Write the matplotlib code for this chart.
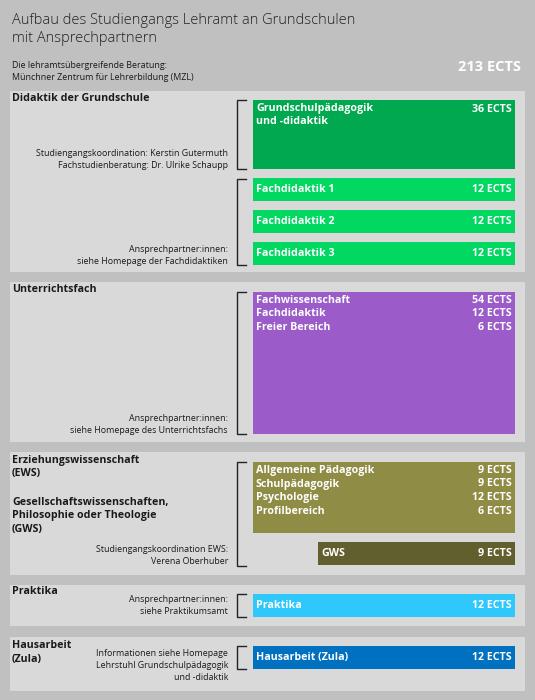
import matplotlib
matplotlib.use('Agg')
import matplotlib.pyplot as plt
from matplotlib.patches import Rectangle

plt.rcParams['font.family'] = ['Open Sans', 'DejaVu Sans']

# --- data ---
title_lines = ['Aufbau des Studiengangs Lehramt an Grundschulen', 'mit Ansprechpartnern']
mzl_lines = ['Die lehramtsübergreifende Beratung:', 'Münchner Zentrum für Lehrerbildung (MZL)']
total_ects = 213

section_titles = ['Didaktik der Grundschule', 'Unterrichtsfach',
                  'Erziehungswissenschaft\n(EWS)',
                  'Gesellschaftswissenschaften,\nPhilosophie oder Theologie\n(GWS)',
                  'Praktika', 'Hausarbeit\n(Zula)']

# modules: (labels, ects values) per box
gs_modules = ['Grundschulpädagogik\nund -didaktik']
gs_ects = [36]
fd_modules = ['Fachdidaktik 1', 'Fachdidaktik 2', 'Fachdidaktik 3']
fd_ects = [12, 12, 12]
uf_modules = ['Fachwissenschaft', 'Fachdidaktik', 'Freier Bereich']
uf_ects = [54, 12, 6]
ews_modules = ['Allgemeine Pädagogik', 'Schulpädagogik', 'Psychologie', 'Profilbereich']
ews_ects = [9, 9, 12, 6]
gws_modules = ['GWS']
gws_ects = [9]
prak_modules = ['Praktika']
prak_ects = [12]
zula_modules = ['Hausarbeit (Zula)']
zula_ects = [12]

contacts = [
    'Studiengangskoordination: Kerstin Gutermuth\nFachstudienberatung: Dr. Ulrike Schaupp',
    'Ansprechpartner:innen:\nsiehe Homepage der Fachdidaktiken',
    'Ansprechpartner:innen:\nsiehe Homepage des Unterrichtsfachs',
    'Studiengangskoordination EWS:\nVerena Oberhuber',
    'Ansprechpartner:innen:\nsiehe Praktikumsamt',
    'Informationen siehe Homepage\nLehrstuhl Grundschulpädagogik\nund -didaktik',
]

# --- colours ---
BG = '#c0c0c0'
PANEL = '#d9d9d9'
C_GS = '#00a94f'
C_FD = '#00d862'
C_UF = '#9b5bc9'
C_EWS = '#8f8c45'
C_GWS = '#625f2e'
C_PRAK = '#2ec8fb'
C_ZULA = '#0070c0'
TXT = '#1a1a1a'

fig = plt.figure(figsize=(5.35, 7.0), dpi=100, facecolor=BG)
ax = fig.add_axes([0, 0, 1, 1])
ax.set_xlim(0, 535)
ax.set_ylim(700, 0)
ax.axis('off')

BX0, BX1 = 253, 515


def panel(y0, y1):
    ax.add_patch(Rectangle((10, y0), 515, y1 - y0, color=PANEL, lw=0))


def bracket(y0, y1):
    ax.plot([246, 237, 237, 246], [y0, y0, y1, y1], color='#222222', lw=1.0,
            solid_joinstyle='miter')


def box(y0, y1, color, labels, ects, x0=BX0, top_text=True, line_h=13.5):
    ax.add_patch(Rectangle((x0, y0), BX1 - x0, y1 - y0, color=color, lw=0))
    if top_text:
        y = y0 + 8.5
        for lab, e in zip(labels, ects):
            ax.text(x0 + 3, y, lab, color='white', fontsize=7.7, fontweight='bold',
                    va='center', ha='left')
            ax.text(BX1 - 3, y, f'{e} ECTS', color='white', fontsize=7.7,
                    fontweight='bold', va='center', ha='right')
            y += line_h
    else:
        yc = (y0 + y1) / 2
        ax.text(x0 + 3, yc, labels[0], color='white', fontsize=7.7,
                fontweight='bold', va='center', ha='left')
        ax.text(BX1 - 3, yc, f'{ects[0]} ECTS', color='white', fontsize=7.7,
                fontweight='bold', va='center', ha='right')


def small(x, y, s, ha='right'):
    ax.text(x, y, s, color=TXT, fontsize=6.4, ha=ha, va='top', linespacing=1.45)


def head(y, s):
    ax.text(12, y, s, color=TXT, fontsize=7.7, fontweight='bold', ha='left',
            va='top', linespacing=1.3)


# header
ax.text(12, 13, '\n'.join(title_lines), color='#222222', fontsize=10.5,
        fontweight='light', ha='left', va='top', linespacing=1.3)
small(12, 61, '\n'.join(mzl_lines), ha='left')
ax.text(521, 67, f'{total_ects} ECTS', color='white', fontsize=10.5,
        fontweight='bold', ha='right', va='center')

# section 1
panel(91, 272)
head(93, section_titles[0])
bracket(100, 169)
ax.add_patch(Rectangle((BX0, 100), BX1 - BX0, 69, color=C_GS, lw=0))
ax.text(BX0 + 3, 103, gs_modules[0], color='white', fontsize=7.7,
        fontweight='bold', ha='left', va='top', linespacing=1.3)
ax.text(BX1 - 3, 109, f'{gs_ects[0]} ECTS', color='white', fontsize=7.7,
        fontweight='bold', ha='right', va='center')
small(228, 149, contacts[0])
bracket(179, 265)
for i, (lab, e) in enumerate(zip(fd_modules, fd_ects)):
    y0 = 178 + i * 32
    box(y0, y0 + 22.5, C_FD, [lab], [e], top_text=False)
small(228, 245, contacts[1])

# section 2
panel(282, 442)
head(284.5, section_titles[1])
bracket(292, 434)
box(292, 434, C_UF, uf_modules, uf_ects)
small(228, 414, contacts[2])

# section 3
panel(452, 575)
head(455, section_titles[2])
head(497, section_titles[3])
bracket(462, 566)
box(462, 532.5, C_EWS, ews_modules, ews_ects)
box(542, 565, C_GWS, gws_modules, gws_ects, x0=318, top_text=False)
small(228, 545, contacts[3])

# section 4
panel(585, 626)
head(586, section_titles[4])
bracket(594, 617)
box(594, 617, C_PRAK, prak_modules, prak_ects, top_text=False)
small(228, 595, contacts[4])

# section 5
panel(637, 691)
head(640.5, section_titles[5])
bracket(646, 669)
box(646, 669, C_ZULA, zula_modules, zula_ects, top_text=False)
small(228, 649, contacts[5])

fig.savefig('out.png', dpi=100, facecolor=BG)
